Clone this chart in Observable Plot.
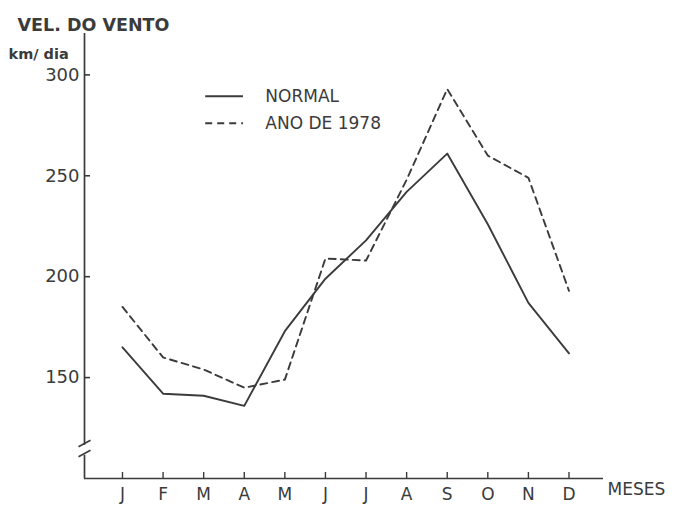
<!DOCTYPE html>
<html><head><meta charset="utf-8">
<script src="https://cdn.jsdelivr.net/npm/d3@7"></script>
<script src="https://cdn.jsdelivr.net/npm/@observablehq/plot@0.6"></script>
<style>body{margin:0;background:#fff} #chart{width:675px;height:505px}</style>
</head><body><div id="chart"></div>
<script>
// ---- data ----
const months = ["J","F","M","A","M","J","J","A","S","O","N","D"];
const normal = [165, 142, 141, 136, 173, 199, 218, 242, 261, 226, 187, 162];
const ano1978 = [185, 160, 154, 145, 149, 209, 208, 248, 293, 260, 249, 193];
const yTicks = [150, 200, 250, 300];
const seriesNames = ["NORMAL", "ANO DE 1978"];
const yTitle = "VEL. DO VENTO";
const yUnit = "km/ dia";
const xTitle = "MESES";

// ---- layout ----
const W = 675, H = 505, mL = 84, mR = 72, mT = 33, mB = 27;
const X0 = -0.936, X1 = 11.85, Y0 = 100, Y1 = 320.5;
const PX = (W - mL - mR) / (X1 - X0);
const PY = (H - mT - mB) / (Y1 - Y0);
const ink = "#3b3b3b";
const font = "'DejaVu Sans', sans-serif";

const normalRows = normal.map((v, i) => ({i, v}));
const anoRows = ano1978.map((v, i) => ({i, v}));
const dash = "7,5";

// axis break (in value units)
const brLo = 111.5, brHi = 116.5;
const slash = [
  {x1: X0 - 6/PX, y1: brLo - 1.5/PY, x2: X0 + 6/PX, y2: brLo + 5/PY},
  {x1: X0 - 6/PX, y1: brHi - 1.5/PY, x2: X0 + 6/PX, y2: brHi + 5/PY}
];
// legend position (value units)
const legX1 = 2.05, legX2 = 2.98, legTx = 3.52, legY = [289.4, 276.0];

const plot = Plot.plot({
  width: W, height: H,
  marginLeft: mL, marginRight: mR, marginTop: mT, marginBottom: mB,
  x: {domain: [X0, X1], axis: null},
  y: {domain: [Y0, Y1], axis: null},
  style: {background: "#fff", color: ink, fontFamily: font, overflow: "visible"},
  marks: [
    // axes
    Plot.ruleY([Y0], {x1: X0, x2: X1, stroke: ink, strokeWidth: 1.7}),
    Plot.ruleX([{a: Y0, b: brLo}, {a: brHi, b: Y1}], {x: () => X0, y1: "a", y2: "b", stroke: ink, strokeWidth: 1.7}),
    Plot.link(slash, {x1: "x1", y1: "y1", x2: "x2", y2: "y2", stroke: ink, strokeWidth: 1.6}),
    Plot.ruleY(yTicks, {x1: X0, x2: X0 + 6/PX, stroke: ink, strokeWidth: 1.6}),
    Plot.ruleX(d3.range(months.length), {y1: Y0, y2: Y0 + 6/PY, stroke: ink, strokeWidth: 1.4}),
    Plot.text(yTicks, {x: X0, y: d => d, text: d => String(d), textAnchor: "end", dx: -5, fontSize: 18, letterSpacing: 2, fill: ink}),
    Plot.text(months, {x: (d, i) => i, y: Y0, text: d => d, dy: 16, fontSize: 17, fill: ink}),
    Plot.text([xTitle], {frameAnchor: "bottom-right", text: d => d, textAnchor: "start", dx: 4, dy: 16, fontSize: 17, fill: ink}),
    Plot.text([yTitle], {frameAnchor: "top-left", text: d => d, textAnchor: "start", dx: 17 - mL, dy: 18 - mT, fontSize: 17.5, fontWeight: "bold", fill: ink, letterSpacing: 0.3}),
    Plot.text([yUnit], {frameAnchor: "top-left", text: d => d, textAnchor: "start", dx: 8 - mL, dy: 48 - mT, fontSize: 14.5, fontWeight: "bold", fill: ink}),
    // data lines
    Plot.line(normalRows, {x: "i", y: "v", stroke: ink, strokeWidth: 1.9}),
    Plot.line(anoRows, {x: "i", y: "v", stroke: ink, strokeWidth: 1.9, strokeDasharray: dash}),
    // legend
    Plot.ruleY([legY[0]], {x1: legX1, x2: legX2, stroke: ink, strokeWidth: 1.9}),
    Plot.ruleY([legY[1]], {x1: legX1, x2: legX2, stroke: ink, strokeWidth: 1.9, strokeDasharray: dash}),
    Plot.text(seriesNames, {x: legTx, y: (d, i) => legY[i], text: d => d, textAnchor: "start", fontSize: 17, fill: ink})
  ]
});
document.getElementById("chart").appendChild(plot);
</script>
</body></html>
